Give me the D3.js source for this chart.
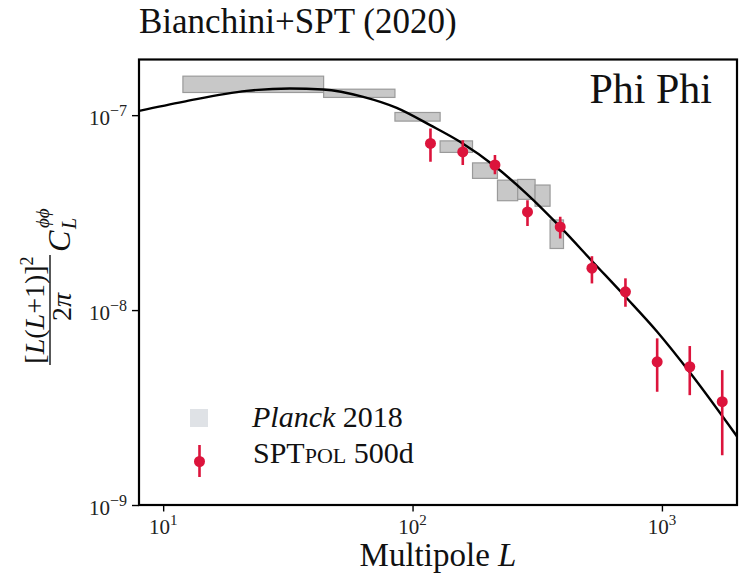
<!DOCTYPE html>
<html>
<head>
<meta charset="utf-8">
<script src="https://cdn.jsdelivr.net/npm/d3@7"></script>
<style>
  body { margin: 0; background: #fff; }
  svg { display: block; }
</style>
</head>
<body>
<svg id="chart" width="748" height="580"></svg>
<script>
// Planck 2018 bandpowers (boxes): L range and amplitude range
const planckLo = [12, 44, 85, 129, 174, 219, 264, 310, 356]
const planckHi = [44, 85, 129, 174, 219, 264, 310, 356, 403]
const planckMin = [1.307e-7, 1.233e-7, 9.32e-8, 6.44e-8, 4.74e-8, 3.64e-8, 3.70e-8, 3.41e-8, 2.07e-8]
const planckMax = [1.585e-7, 1.359e-7, 1.032e-7, 7.38e-8, 5.69e-8, 4.64e-8, 4.68e-8, 4.38e-8, 2.90e-8]

// SPTpol 500d bandpowers
const sptL = [118, 159, 214, 289, 391, 524, 714, 957, 1293, 1745]
const sptVal = [7.16e-8, 6.48e-8, 5.55e-8, 3.19e-8, 2.67e-8, 1.64e-8, 1.24e-8, 5.43e-9, 5.12e-9, 3.39e-9]
const sptLow = [5.76e-8, 5.55e-8, 4.98e-8, 2.70e-8, 2.33e-8, 1.37e-8, 1.04e-8, 3.81e-9, 3.66e-9, 1.80e-9]
const sptHigh = [8.55e-8, 7.44e-8, 6.24e-8, 3.66e-8, 3.01e-8, 1.89e-8, 1.455e-8, 7.16e-9, 6.54e-9, 4.92e-9]

// theory curve
const theoryL = [8, 12, 21.6, 32.2, 43.8, 63.4, 86.4, 117.6, 155, 214.5, 287, 391, 532, 714, 957, 1302, 2004]
const theoryCl = [1.052e-7, 1.17e-7, 1.333e-7, 1.371e-7, 1.355e-7, 1.242e-7, 1.09e-7, 8.89e-8, 7.3e-8,
  5.45e-8, 3.95e-8, 2.67e-8, 1.75e-8, 1.17e-8, 7.74e-9, 4.74e-9, 2.24e-9]

// ticks
const xMajor = [10, 100, 1000]
const xMajorExp = ['1', '2', '3']
const xMinor = [8, 9, 20, 30, 40, 50, 60, 70, 80, 90, 200, 300, 400, 500, 600, 700, 800, 900, 2000]
const yMajor = [1e-9, 1e-8, 1e-7]
const yMajorExp = ['\u22129', '\u22128', '\u22127']
const yMinor = [2e-9, 3e-9, 4e-9, 5e-9, 6e-9, 7e-9, 8e-9, 9e-9, 2e-8, 3e-8, 4e-8, 5e-8, 6e-8, 7e-8, 8e-8, 9e-8]

const width = 748
const height = 580
const marginLeft = 139
const marginRight = 11
const marginTop = 59.5
const marginBottom = 75
const red = '#dc143c'
const serif = '"Liberation Serif", "Times New Roman", serif'

const svg = d3.select('#chart')
const boundWidth = width - marginLeft - marginRight
const boundHeight = height - marginTop - marginBottom

const xScale = d3.scaleLog().domain([8, 2000]).range([0, boundWidth])
const yScale = d3.scaleLog().domain([1e-9, 1.93e-7]).range([boundHeight, 0])

svg.append('rect').attr('width', width).attr('height', height).attr('fill', '#fff')

// title
svg.append('text')
    .attr('x', 139)
    .attr('y', 33)
    .attr('font-family', serif)
    .attr('font-size', 35)
    .attr('fill', '#111')
    .text('Bianchini+SPT (2020)')

const bounds = svg.append('g')
    .attr('transform', `translate(${marginLeft}, ${marginTop})`)

bounds.append('clipPath').attr('id', 'clip')
  .append('rect').attr('width', boundWidth).attr('height', boundHeight)

const plot = bounds.append('g').attr('clip-path', 'url(#clip)')

// planck boxes
plot.selectAll('rect.planck')
  .data(d3.range(planckLo.length))
  .join('rect')
    .attr('class', 'planck')
    .attr('x', i => xScale(planckLo[i]))
    .attr('y', i => yScale(planckMax[i]))
    .attr('width', i => xScale(planckHi[i]) - xScale(planckLo[i]))
    .attr('height', i => yScale(planckMin[i]) - yScale(planckMax[i]))
    .attr('fill', '#c8c8c8')
    .attr('stroke', '#9a9a9a')
    .attr('stroke-width', 1.2)

// theory line
const line = d3.line()
    .x(i => xScale(theoryL[i]))
    .y(i => yScale(theoryCl[i]))
    .curve(d3.curveMonotoneX)

plot.append('path')
    .attr('d', line(d3.range(theoryL.length)))
    .attr('fill', 'none')
    .attr('stroke', '#000')
    .attr('stroke-width', 2.4)

// SPT points
const pts = plot.selectAll('g.spt')
  .data(d3.range(sptL.length))
  .join('g')
    .attr('class', 'spt')
pts.append('line')
    .attr('x1', i => xScale(sptL[i]))
    .attr('x2', i => xScale(sptL[i]))
    .attr('y1', i => yScale(sptHigh[i]))
    .attr('y2', i => yScale(sptLow[i]))
    .attr('stroke', red)
    .attr('stroke-width', 2.6)
pts.append('circle')
    .attr('cx', i => xScale(sptL[i]))
    .attr('cy', i => yScale(sptVal[i]))
    .attr('r', 5.5)
    .attr('fill', red)

// axes
const xAxis = bounds.append('g').attr('transform', `translate(0, ${boundHeight})`)
xAxis.call(d3.axisBottom(xScale).tickValues(xMinor).tickSize(4).tickFormat(''))
xAxis.call(d3.axisBottom(xScale).tickValues(xMajor).tickSize(6.5).tickFormat(''))
const yAxis = bounds.append('g')
yAxis.call(d3.axisLeft(yScale).tickValues(yMinor).tickSize(4).tickFormat(''))
yAxis.call(d3.axisLeft(yScale).tickValues(yMajor).tickSize(7).tickFormat(''))
bounds.selectAll('.domain').remove()
bounds.selectAll('.tick line').attr('stroke', '#000').attr('stroke-width', 1.4)

// frame
bounds.append('rect')
    .attr('width', boundWidth)
    .attr('height', boundHeight)
    .attr('fill', 'none')
    .attr('stroke', '#000')
    .attr('stroke-width', 2.2)

// tick labels
const xLab = bounds.selectAll('text.xlab')
  .data(xMajor)
  .join('text')
    .attr('class', 'xlab')
    .attr('x', d => xScale(d))
    .attr('y', boundHeight + 29)
    .attr('text-anchor', 'middle')
    .attr('font-family', serif)
    .attr('font-size', 21)
    .attr('fill', '#222')
xLab.append('tspan').text('10')
xLab.append('tspan').attr('font-size', 15).attr('dy', -9).text((d, i) => xMajorExp[i])

const yLab = bounds.selectAll('text.ylab')
  .data(yMajor)
  .join('text')
    .attr('class', 'ylab')
    .attr('x', -12)
    .attr('y', d => yScale(d) + 9.5)
    .attr('text-anchor', 'end')
    .attr('font-family', serif)
    .attr('font-size', 21)
    .attr('fill', '#222')
yLab.append('tspan').text('10')
yLab.append('tspan').attr('font-size', 16).attr('dy', -9).text((d, i) => yMajorExp[i])

// axis titles
const xTitle = svg.append('text')
    .attr('x', marginLeft + boundWidth / 2)
    .attr('y', 566)
    .attr('text-anchor', 'middle')
    .attr('font-family', serif)
    .attr('font-size', 33)
    .attr('fill', '#111')
xTitle.append('tspan').text('Multipole ')
xTitle.append('tspan').attr('font-style', 'italic').text('L')

const yTitle = svg.append('g')
    .attr('transform', 'translate(50, 285) rotate(-90)')
    .attr('font-family', serif)
    .attr('fill', '#111')
const num = yTitle.append('text')
    .attr('x', -25).attr('y', -6)
    .attr('text-anchor', 'middle')
    .attr('font-size', 28)
num.append('tspan').text('[')
num.append('tspan').attr('font-style', 'italic').text('L')
num.append('tspan').text('(')
num.append('tspan').attr('font-style', 'italic').text('L')
num.append('tspan').text('+1)]')
num.append('tspan').attr('font-size', 18).attr('dy', -11).text('2')
yTitle.append('line')
    .attr('x1', -80).attr('x2', 30)
    .attr('y1', 0).attr('y2', 0)
    .attr('stroke', '#111').attr('stroke-width', 1.4)
const den = yTitle.append('text')
    .attr('x', -22).attr('y', 21)
    .attr('text-anchor', 'middle')
    .attr('font-size', 28)
den.append('tspan').text('2')
den.append('tspan').attr('font-style', 'italic').text('\u03c0')
yTitle.append('text')
    .attr('x', 33).attr('y', 20)
    .attr('font-size', 32)
    .attr('font-style', 'italic')
    .text('C')
yTitle.append('text')
    .attr('x', 57).attr('y', -1)
    .attr('font-size', 19)
    .attr('font-style', 'italic')
    .text('\u03d5\u03d5')
yTitle.append('text')
    .attr('x', 56).attr('y', 26)
    .attr('font-size', 20)
    .attr('font-style', 'italic')
    .text('L')

// phi phi label
svg.append('text')
    .attr('x', 712)
    .attr('y', 103)
    .attr('text-anchor', 'end')
    .attr('font-family', serif)
    .attr('font-size', 42)
    .attr('fill', '#111')
    .text('Phi Phi')

// legend
const legend = svg.append('g').attr('font-family', serif).attr('font-size', 30).attr('fill', '#111')
legend.append('rect')
    .attr('x', 190).attr('y', 409)
    .attr('width', 18).attr('height', 18)
    .attr('fill', '#dfe2e6')
const l1 = legend.append('text').attr('x', 252).attr('y', 427)
l1.append('tspan').attr('font-style', 'italic').text('Planck')
l1.append('tspan').text(' 2018')

legend.append('line')
    .attr('x1', 199.5).attr('x2', 199.5)
    .attr('y1', 445).attr('y2', 477)
    .attr('stroke', red).attr('stroke-width', 2.6)
legend.append('circle')
    .attr('cx', 199.5).attr('cy', 461.5).attr('r', 5.5)
    .attr('fill', red)
const l2 = legend.append('text').attr('x', 253).attr('y', 463)
l2.append('tspan').text('SPT')
l2.append('tspan').attr('font-size', 22).text('POL')
l2.append('tspan').text(' 500d')
</script>
</body>
</html>
